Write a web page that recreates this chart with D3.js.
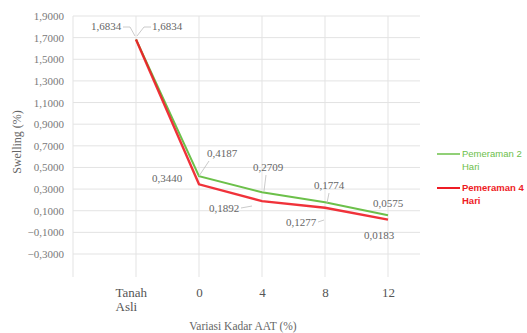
<!DOCTYPE html>
<html><head><meta charset="utf-8">
<script src="https://cdn.jsdelivr.net/npm/d3@7"></script>
<style>body{margin:0;background:#fff}svg{display:block}</style>
</head><body><svg id="c" width="527" height="333"></svg>
<script>
const categories = ["Tanah Asli", "0", "4", "8", "12"];
const series2Hari = [1.6834, 0.4187, 0.2709, 0.1774, 0.0575];
const series4Hari = [1.6834, 0.3440, 0.1892, 0.1277, 0.0183];
const yTicks = [1.9, 1.7, 1.5, 1.3, 1.1, 0.9, 0.7, 0.5, 0.3, 0.1, -0.1, -0.3];
const seriesNames = ["Pemeraman 2 Hari", "Pemeraman 4 Hari"];
const colors = ["#6cc04a", "#ee1c25"];

(function(){
const svg = d3.select("#c");
const serif = "'Liberation Serif','Times New Roman',serif";
const sans = "'Liberation Sans',Arial,sans-serif";

const pLeft = 73, pRight = 420, pTop = 16, pBottom = 277;
const x = d3.scalePoint().domain(categories).range([136, 388]);
const step = x.step();
const y = d3.scaleLinear().domain([1.9, -0.3]).range([16, 254]);

const fmt = v => d3.format(".4f")(v).replace(".", ",");

svg.append("g").selectAll("line").data(yTicks).join("line")
  .attr("x1", pLeft).attr("x2", pRight)
  .attr("y1", d => y(d)).attr("y2", d => y(d))
  .attr("stroke", "#e3e3e3").attr("stroke-width", 1);
const vx = [x(categories[0]) - step].concat(categories.map(c => x(c)));
svg.append("g").selectAll("line").data(vx).join("line")
  .attr("x1", d => d).attr("x2", d => d)
  .attr("y1", pTop).attr("y2", pBottom)
  .attr("stroke", "#e3e3e3").attr("stroke-width", 1);

const yAxis = d3.axisLeft(y).tickValues(yTicks).tickFormat(fmt).tickSize(0).tickPadding(9);
const gy = svg.append("g").attr("transform", `translate(${pLeft},0)`).call(yAxis);
gy.select(".domain").remove();
gy.selectAll("text").attr("font-family", serif).attr("font-size", 11).attr("fill", "#7a7a7a");

const xAxis = d3.axisBottom(x).tickSize(0).tickFormat("");
const gx = svg.append("g").attr("transform", `translate(0,${pBottom})`).call(xAxis);
gx.select(".domain").remove();
gx.selectAll(".tick").each(function(d){
  const g = d3.select(this);
  const words = d.split(" ");
  const t = g.append("text").attr("font-family", serif).attr("font-size", 13)
    .attr("fill", "#555");
  if (words.length > 1) {
    t.attr("text-anchor", "start");
    words.forEach((w, i) => t.append("tspan").attr("x", -21).attr("y", 20 + i*14).text(w));
  } else {
    t.attr("text-anchor", "middle").attr("y", 20).text(d);
  }
});

svg.append("text").attr("x", 243).attr("y", 330).attr("text-anchor", "middle")
  .attr("font-family", serif).attr("font-size", 11.5).attr("fill", "#666").text("Variasi Kadar AAT (%)");
svg.append("text").attr("transform", "translate(21,142) rotate(-90)").attr("text-anchor", "middle")
  .attr("font-family", serif).attr("font-size", 12).attr("fill", "#666").text("Swelling (%)");

const line = d3.line().x((d, i) => x(categories[i])).y(d => y(d));
svg.append("path").datum(series2Hari).attr("d", line).attr("fill", "none")
  .attr("stroke", colors[0]).attr("stroke-width", 2);
svg.append("path").datum(series4Hari).attr("d", line).attr("fill", "none")
  .attr("stroke", colors[1]).attr("stroke-width", 2.4).attr("stroke-opacity", 0.9);

const labels = [
  {v: series4Hari[0], lx: 106, ly: 30, lead: [[123, 27], [130, 27], [135, 36]]},
  {v: series2Hari[0], lx: 167, ly: 30, lead: [[151, 27], [144, 27], [137, 36]]},
  {v: series4Hari[1], lx: 167, ly: 182},
  {v: series2Hari[1], lx: 222, ly: 157, lead: [[209, 161], [199, 176]]},
  {v: series2Hari[2], lx: 268, ly: 171, lead: [[266, 175], [264, 191]]},
  {v: series4Hari[2], lx: 224, ly: 212, lead: [[241, 208], [252, 206]]},
  {v: series2Hari[3], lx: 329, ly: 189, lead: [[329, 193], [327, 203]]},
  {v: series4Hari[3], lx: 301, ly: 226, lead: [[318, 222], [324, 220]]},
  {v: series2Hari[4], lx: 388, ly: 207},
  {v: series4Hari[4], lx: 379, ly: 239}
];
labels.forEach(l => {
  if (l.lead) svg.append("path").attr("d", d3.line()(l.lead)).attr("fill", "none")
    .attr("stroke", "#bdbdbd").attr("stroke-width", 0.8);
  svg.append("text").attr("x", l.lx).attr("y", l.ly).attr("text-anchor", "middle")
    .attr("font-family", serif).attr("font-size", 11).attr("fill", "#666").text(fmt(l.v));
});

const leg = [{name: ["Pemeraman 2", "Hari"], c: colors[0], y: 154, bold: false},
             {name: ["Pemeraman 4", "Hari"], c: colors[1], y: 188, bold: true}];
leg.forEach(l => {
  svg.append("line").attr("x1", 437).attr("x2", 460).attr("y1", l.y).attr("y2", l.y)
    .attr("stroke", l.c).attr("stroke-width", l.bold ? 2 : 1.5);
  const t = svg.append("text").attr("font-family", sans).attr("font-size", 9.5)
    .attr("fill", l.c).attr("font-weight", l.bold ? "bold" : "normal");
  l.name.forEach((w, i) => t.append("tspan").attr("x", 462).attr("y", l.y + 3 + i*13).text(w));
});
})();
</script></body></html>
